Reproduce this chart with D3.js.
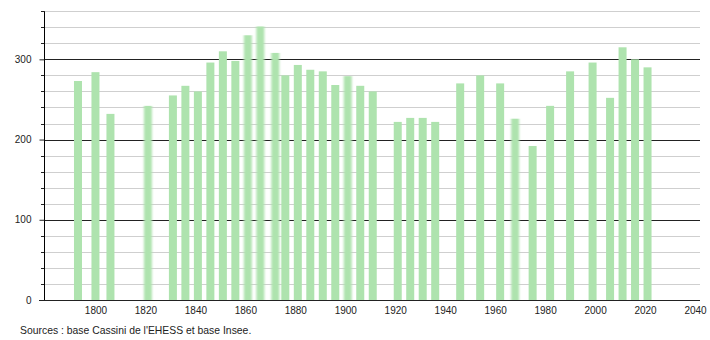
<!DOCTYPE html>
<html>
<head>
<meta charset="utf-8">
<script src="https://cdn.jsdelivr.net/npm/d3@7"></script>
<style>
  body { margin: 0; background: #fff; }
  text { font-family: "Liberation Sans", Arial, sans-serif; fill: #222; }
</style>
</head>
<body>
<div id="chart"></div>
<script>
// census years and population
var years = [1793, 1800, 1806, 1821, 1831, 1836, 1841, 1846, 1851, 1856,
  1861, 1866, 1872, 1876, 1881, 1886, 1891, 1896, 1901, 1906, 1911,
  1921, 1926, 1931, 1936, 1946, 1954, 1962, 1968, 1975, 1982, 1990,
  1999, 2006, 2011, 2016, 2021];
var population = [273, 284, 232, 242, 255, 267, 260, 296, 310, 298,
  330, 341, 308, 280, 293, 287, 285, 268, 279, 267, 260,
  222, 227, 227, 222, 270, 280, 270, 226, 192, 242, 285,
  296, 252, 315, 300, 290];
var xTicks = [1800, 1820, 1840, 1860, 1880, 1900, 1920, 1940, 1960, 1980, 2000, 2020, 2040];
var yTicks = [0, 100, 200, 300];
var source = "Sources : base Cassini de l'EHESS et base Insee.";
// bars that come out soft-edged in the original image
var softYears = [1821, 1861, 1866, 1872, 1901, 1968];

var data = years.map(function (y, i) { return { year: y, value: population[i] }; });

var width = 710;
var height = 340;

var svg = d3.select("#chart")
  .append("svg")
  .attr("width", width)
  .attr("height", height);

svg.append("defs")
  .append("filter")
  .attr("id", "soft")
  .attr("x", "-50%").attr("width", "200%")
  .append("feGaussianBlur")
  .attr("stdDeviation", "1.1 0");

var x = d3.scaleLinear()
  .domain([1779.4, 2042])
  .range([44, 700]);

var y = d3.scaleLinear()
  .domain([0, 360])
  .range([300, 11.2]);

// grid: light every 20, dark every 100
var grid = d3.range(20, 361, 20);
svg.append("g")
  .selectAll("line")
  .data(grid)
  .enter()
  .append("line")
  .attr("x1", x.range()[0])
  .attr("x2", x.range()[1])
  .attr("y1", function (d) { return Math.round(y(d)) + 0.5; })
  .attr("y2", function (d) { return Math.round(y(d)) + 0.5; })
  .attr("stroke", function (d) { return d % 100 == 0 ? "#222" : "#cfcfcf"; })
  .attr("stroke-width", 1);

// bars
var barW = 8;
svg.append("g")
  .selectAll("rect")
  .data(data)
  .enter()
  .append("rect")
  .attr("x", function (d) { return x(d.year) - barW / 2; })
  .attr("width", barW)
  .attr("y", function (d) { return y(d.value); })
  .attr("height", function (d) { return y(0) - y(d.value); })
  .attr("fill", "#aee3ae")
  .attr("filter", function (d) { return softYears.indexOf(d.year) >= 0 ? "url(#soft)" : null; });

// y axis
var yAxis = svg.append("g")
  .attr("transform", "translate(44.5,0)")
  .call(d3.axisLeft(y).tickValues(yTicks).tickSize(5).tickPadding(8).tickFormat(d3.format("d")));
yAxis.select(".domain").attr("d", "M0," + y(360) + "V" + y(0));
yAxis.selectAll(".tick line").attr("stroke", "#222");
yAxis.selectAll("text").style("font-size", "10px").attr("fill", "#222");

// small ticks every 20
svg.append("g")
  .selectAll("line")
  .data(grid.filter(function (d) { return d % 100 != 0; }))
  .enter()
  .append("line")
  .attr("x1", 41)
  .attr("x2", 44)
  .attr("y1", function (d) { return Math.round(y(d)) + 0.5; })
  .attr("y2", function (d) { return Math.round(y(d)) + 0.5; })
  .attr("stroke", "#222");

// x axis
var xAxis = svg.append("g")
  .attr("transform", "translate(0,300.5)")
  .call(d3.axisBottom(x).tickValues(xTicks).tickSize(0).tickPadding(6).tickFormat(d3.format("d")));
xAxis.select(".domain").attr("d", "M39,0H700").attr("stroke", "#222");
xAxis.selectAll("text").style("font-size", "10px").attr("fill", "#222");

svg.append("text")
  .attr("x", 20)
  .attr("y", 334)
  .style("font-size", "10.4px")
  .text(source);
</script>
</body>
</html>
